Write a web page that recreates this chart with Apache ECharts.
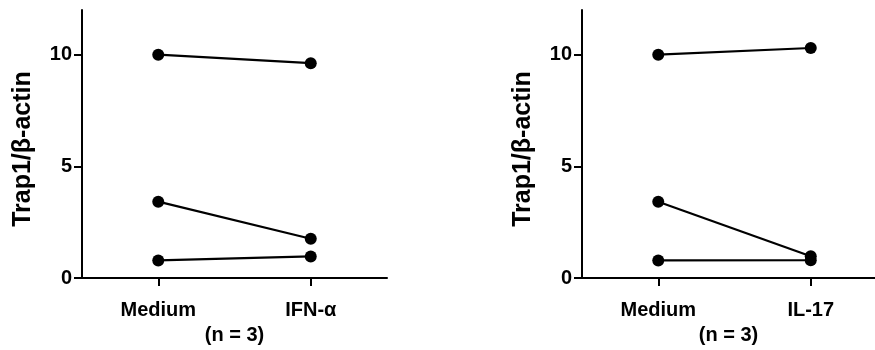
<!DOCTYPE html>
<html>
<head>
<meta charset="utf-8">
<script src="https://cdn.jsdelivr.net/npm/echarts@6/dist/echarts.min.js"></script>
<style>
html,body{margin:0;padding:0;background:#fff;}
#chart{width:875px;height:350px;}
</style>
</head>
<body>
<div id="chart"></div>
<script>
var categoriesLeft = ['Medium', 'IFN-\u03b1'];
var categoriesRight = ['Medium', 'IL-17'];
var categoryPositions = [1, 2];
var yTicks = [0, 5, 10];
var yTitle = 'Trap1/\u03b2-actin';
var groupNote = '(n = 3)';
// each pair: [Medium, treatment]
var leftPair1 = [10.0, 9.62];
var leftPair2 = [3.42, 1.76];
var leftPair3 = [0.79, 0.97];
var rightPair1 = [10.0, 10.3];
var rightPair2 = [3.42, 0.98];
var rightPair3 = [0.79, 0.80];

var FONT = 'Liberation Sans, Arial, sans-serif';
function xAxis(idx, cats, maxV) {
  return {
    type: 'value', gridIndex: idx, min: 0.5, max: maxV,
    axisLine: {lineStyle: {color: '#000', width: 2}},
    axisTick: {show: true, length: 8, customValues: categoryPositions, lineStyle: {color: '#000', width: 2}},
    axisLabel: {color: '#000', fontFamily: FONT, fontWeight: 'bold', fontSize: 20, margin: 22,
      customValues: categoryPositions,
      formatter: function (v) { return cats[Math.round(v) - 1] || ''; }},
    name: groupNote, nameLocation: 'middle', nameGap: 43,
    nameTextStyle: {color: '#000', fontFamily: FONT, fontWeight: 'bold', fontSize: 20},
    splitLine: {show: false}
  };
}
function yAxis(idx) {
  return {
    type: 'value', gridIndex: idx, min: 0, max: 12,
    axisLine: {show: true, lineStyle: {color: '#000', width: 2}},
    axisTick: {show: true, length: 8, customValues: yTicks, lineStyle: {color: '#000', width: 2}},
    axisLabel: {color: '#000', fontFamily: FONT, fontWeight: 'bold', fontSize: 20, margin: 10, customValues: yTicks},
    splitLine: {show: false},
    name: yTitle, nameLocation: 'middle', nameRotate: 90, nameGap: 46,
    nameTextStyle: {color: '#000', fontFamily: FONT, fontWeight: 'bold', fontSize: 25, padding: [0, 10, 0, 0]}
  };
}
function line(idx, data) {
  return {
    type: 'line', xAxisIndex: idx, yAxisIndex: idx,
    data: data.map(function (v, i) { return [categoryPositions[i], v]; }),
    symbol: 'circle', symbolSize: 12, lineStyle: {color: '#000', width: 2.2},
    itemStyle: {color: '#000'}, animation: false, z: 3
  };
}
var chart = echarts.init(document.getElementById('chart'));
chart.setOption({
  animation: false,
  grid: [
    {left: 82, top: 10, width: 305, height: 271},
    {left: 582, top: 10, width: 293, height: 271}
  ],
  xAxis: [xAxis(0, categoriesLeft, 2.5), xAxis(1, categoriesRight, 0.5 + 293 / 152.5)],
  yAxis: [yAxis(0), yAxis(1)],
  series: [
    line(0, leftPair1), line(0, leftPair2), line(0, leftPair3),
    line(1, rightPair1), line(1, rightPair2), line(1, rightPair3)
  ]
});
</script>
</body>
</html>
